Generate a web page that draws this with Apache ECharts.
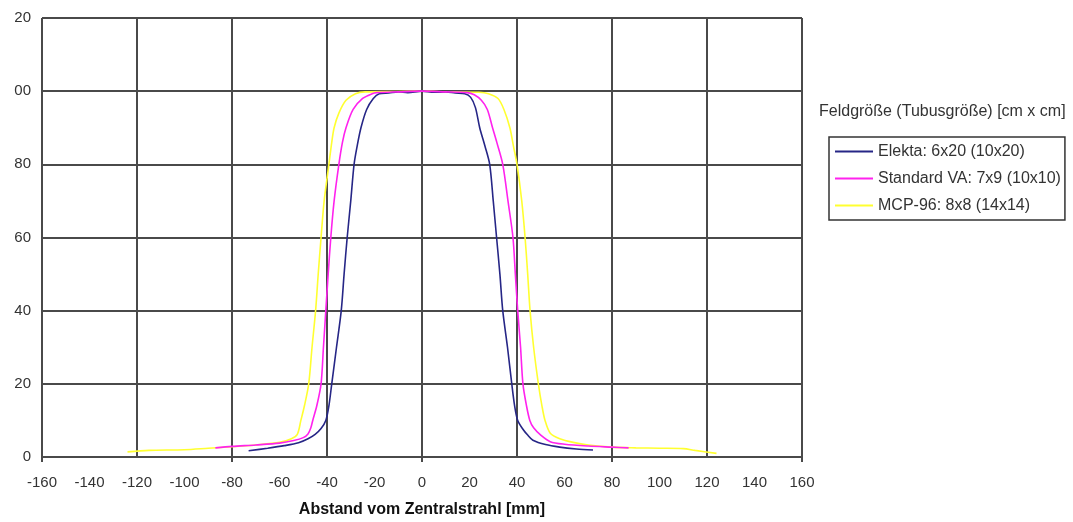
<!DOCTYPE html>
<html>
<head>
<meta charset="utf-8">
<script src="https://cdn.jsdelivr.net/npm/echarts@6/dist/echarts.min.js"></script>
<style>
  html, body { margin: 0; padding: 0; background: #fff; }
  #chart { width: 1073px; height: 522px; }
</style>
</head>
<body>
<div id="chart"></div>
<script>
// Feldgrößen-Profile, Werte [x in mm, relative Dosis]
var seriesNames = ['Elekta: 6x20 (10x20)', 'Standard VA: 7x9 (10x10)', 'MCP-96: 8x8 (14x14)'];
var legendTitle = 'Feldgröße (Tubusgröße) [cm x cm]';
var xTitle = 'Abstand vom Zentralstrahl [mm]';

var elekta = [[-73,1.7],[-65,2.4],[-58,3.1],[-52,3.9],[-48,5],[-45,6.2],[-42.5,7.8],[-40.5,10],[-39.2,14],[-38,20],[-36,30],[-34,40],[-32.8,50],[-31.5,60],[-30,70],[-28.6,80],[-27.3,85],[-25.7,90],[-23.3,95],[-20.5,98],[-18,99.3],[-14,99.5],[-10,99.8],[-6,99.6],[0,100],[5,99.7],[10,99.8],[14,99.5],[18,99.3],[20.5,98.3],[22.5,95.5],[24.3,90],[26.5,85],[28.5,80],[30,70],[31.4,60],[32.8,50],[34,40],[36,30],[37.8,20],[39,14],[40.3,10],[42.5,7.6],[44.5,6],[46.7,4.6],[52,3.4],[58,2.7],[65,2.2],[72,1.9]];

var standardVA = [[-87,2.5],[-80,2.9],[-70,3.3],[-60,3.8],[-54,4.5],[-50,5.3],[-48,6.3],[-46.8,8],[-46,10],[-44.3,14],[-42.5,20],[-41.5,30],[-40.5,40],[-39.5,50],[-38.4,60],[-37,70],[-35,80],[-33.5,86],[-32,90],[-29,95],[-25,98],[-21,99.3],[-19,99.6],[-10,99.8],[0,100],[10,99.8],[19,99.6],[22,99],[25,97.5],[27.5,95],[29.7,90],[31.5,86],[34,80],[36.2,70],[38.3,60],[39.3,50],[40.3,40],[41.5,30],[42.5,20],[44,14],[45.4,10],[47,8],[50,6],[54,4.2],[60,3.5],[70,3],[80,2.7],[87,2.5]];

var mcp96 = [[-124,1.4],[-115,1.8],[-100,2],[-90,2.4],[-80,2.8],[-70,3.3],[-60,4],[-55,5],[-52.5,6.2],[-51,10],[-49.5,14],[-47.7,20],[-46.3,30],[-44.8,40],[-43.7,50],[-42.5,60],[-41.2,70],[-39.2,80],[-38,86],[-37,90],[-35,94],[-32,97.5],[-28,99.3],[-24,99.8],[-10,99.9],[0,100],[10,99.8],[24,99.7],[28,99.3],[32,98],[34.5,95],[37,90],[38.5,85],[40,80],[42,70],[43.4,60],[44.5,50],[45.5,40],[47,30],[49,20],[50.5,14],[51.8,10],[54,6.5],[58,5],[63.7,4],[70,3.3],[80,2.7],[90,2.5],[100,2.4],[110,2.3],[115,1.8],[124,1]];

var colors = ['#262686', '#ff22ee', '#ffff30'];

var chart = echarts.init(document.getElementById('chart'));
var lineCol = '#4a4a4a';
var gridLine = { show: true, lineStyle: { color: lineCol, width: 2 } };
var labelFont = { fontFamily: 'Liberation Sans', fontSize: 15, color: '#333' };
var gridBox = { left: 42, right: 271, top: 18, bottom: 65, outerBoundsMode: 'none', containLabel: false };

var option = {
    animation: false,
    color: colors,
    title: {
        text: legendTitle,
        left: 819,
        top: 104,
        padding: 0,
        textStyle: { fontFamily: 'Liberation Sans', fontSize: 16, fontWeight: 'normal', color: '#333' }
    },
    legend: {
        orient: 'vertical',
        left: 829,
        top: 137,
        padding: [6, 4, 6, 6],
        borderColor: '#333',
        borderWidth: 1.5,
        itemWidth: 38,
        itemHeight: 2,
        itemGap: 10,
        icon: 'rect',
        textStyle: { fontFamily: 'Liberation Sans', fontSize: 16, color: '#333', lineHeight: 17 },
        data: seriesNames
    },
    grid: [gridBox, gridBox],
    xAxis: [
        {   // Beschriftung alle 20 mm
            type: 'value', gridIndex: 0, position: 'bottom',
            min: -160, max: 160, interval: 20,
            name: xTitle,
            nameLocation: 'middle',
            nameGap: 45,
            nameTextStyle: { fontFamily: 'Liberation Sans', fontSize: 16, fontWeight: 'bold', color: '#111' },
            axisLine: { show: true, onZero: false, lineStyle: { color: lineCol, width: 2 } },
            axisTick: { show: false },
            axisLabel: Object.assign({ margin: 18 }, labelFont),
            splitLine: { show: false }
        },
        {   // Gitterlinien alle 40 mm
            type: 'value', gridIndex: 0, position: 'top',
            min: -160, max: 160, interval: 40,
            axisLine: { show: false }, axisTick: { show: false }, axisLabel: { show: false },
            splitLine: gridLine
        },
        {   // Teilstriche alle 80 mm
            type: 'value', gridIndex: 1, position: 'bottom',
            min: -160, max: 160, interval: 80,
            axisLine: { show: false }, axisLabel: { show: false }, splitLine: { show: false },
            axisTick: { show: true, length: 5, lineStyle: { color: lineCol, width: 2 } }
        }
    ],
    yAxis: [
        {
            type: 'value', gridIndex: 0,
            min: 0, max: 120, interval: 20,
            axisLine: { show: true, lineStyle: { color: lineCol, width: 2 } },
            axisTick: { show: true, length: 4, lineStyle: { color: lineCol, width: 2 } },
            axisLabel: Object.assign({
                margin: 11,
                // Beschriftung links abgeschnitten wie im Original
                formatter: function (v) { return v >= 100 ? String(v).slice(1) : String(v); }
            }, labelFont),
            splitLine: gridLine
        },
        { type: 'value', gridIndex: 1, min: 0, max: 120, show: false }
    ],
    series: [
        { name: seriesNames[0], type: 'line', data: elekta, showSymbol: false, smooth: 0.3, lineStyle: { width: 1.6 }, z: 3 },
        { name: seriesNames[1], type: 'line', data: standardVA, showSymbol: false, smooth: 0.3, lineStyle: { width: 1.6 }, z: 3 },
        { name: seriesNames[2], type: 'line', data: mcp96, showSymbol: false, smooth: 0.3, lineStyle: { width: 1.6 }, z: 2 }
    ]
};
chart.setOption(option);
</script>
</body>
</html>
